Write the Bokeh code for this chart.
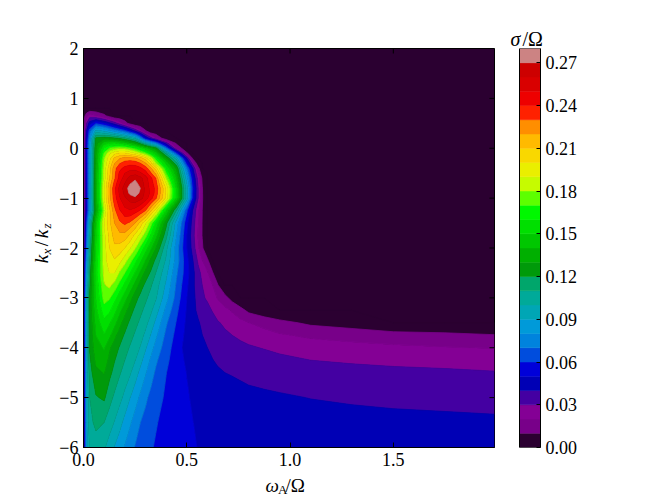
import numpy as np
from bokeh.plotting import figure
from bokeh.models import Range1d, FixedTicker, Label, NumeralTickFormatter
from bokeh.layouts import row, column
from bokeh.embed import file_html
from bokeh.resources import INLINE

# ---------------- data ----------------
# omega_A / Omega grid, left part (lobe) and right part (long-wavelength branch)
omega_left = [0, 0.005, 0.015, 0.03, 0.06, 0.1, 0.125, 0.15, 0.175, 0.2, 0.225, 0.25,
              0.275, 0.3, 0.325, 0.35, 0.4, 0.45, 0.5, 0.53, 0.555, 0.575]
omega_right = [0.6, 0.625, 0.65, 0.685, 0.72, 0.76, 0.8, 0.875, 0.95, 1.1, 1.3, 1.5, 1.75, 1.99]
kx_kz = [-6, -5.5, -5, -4.5, -4.25, -4, -3.75, -3.5, -3.25, -3, -2.75, -2.5, -2.25, -2,
         -1.75, -1.5, -1.25, -1, -0.9, -0.8, -0.7, -0.6, -0.5, -0.4, -0.3, -0.2, -0.1,
         0, 0.1, 0.2, 0.35, 0.5, 0.65, 0.8, 2]

# sigma/Omega, one row per kx/kz value, columns follow omega_left
sigma_left = [
    [0, 0.035, 0.085, 0.102, 0.105, 0.1014, 0.0954, 0.0894, 0.0842, 0.079, 0.0738, 0.0692, 0.0664, 0.0636, 0.0608, 0.0592, 0.0569, 0.0546, 0.0523, 0.0509, 0.0497, 0.0494],
    [0, 0.036, 0.088, 0.107, 0.1125, 0.11, 0.1048, 0.0995, 0.0934, 0.0869, 0.0813, 0.0757, 0.07, 0.0669, 0.0638, 0.0606, 0.0574, 0.0546, 0.0518, 0.0501, 0.0488, 0.0482],
    [0, 0.037, 0.09, 0.11, 0.119, 0.1215, 0.1138, 0.108, 0.103, 0.0972, 0.0903, 0.0841, 0.078, 0.0718, 0.0675, 0.0639, 0.0584, 0.0547, 0.051, 0.0487, 0.0469, 0.0458],
    [0, 0.038, 0.092, 0.115, 0.128, 0.1305, 0.1229, 0.1167, 0.1111, 0.1062, 0.1013, 0.0945, 0.0874, 0.0808, 0.0741, 0.0684, 0.0602, 0.0548, 0.0497, 0.0465, 0.0442, 0.0432],
    [0, 0.038, 0.093, 0.118, 0.132, 0.136, 0.1273, 0.1205, 0.1152, 0.11, 0.1052, 0.1004, 0.093, 0.0857, 0.0786, 0.0717, 0.0621, 0.0549, 0.0481, 0.0441, 0.0418, 0.0414],
    [0, 0.039, 0.094, 0.121, 0.136, 0.141, 0.1317, 0.125, 0.119, 0.114, 0.1091, 0.1043, 0.0994, 0.0913, 0.0838, 0.0765, 0.0646, 0.0551, 0.0457, 0.043, 0.0415, 0.0405],
    [0, 0.039, 0.095, 0.121, 0.14, 0.149, 0.1426, 0.1329, 0.1249, 0.1186, 0.1136, 0.1086, 0.1037, 0.098, 0.0897, 0.0819, 0.0675, 0.057, 0.047, 0.0435, 0.0412, 0.0401],
    [0, 0.04, 0.096, 0.122, 0.143, 0.157, 0.1513, 0.1433, 0.1335, 0.1247, 0.118, 0.113, 0.108, 0.103, 0.0964, 0.0877, 0.0713, 0.0593, 0.048, 0.045, 0.041, 0.038],
    [0, 0.04, 0.097, 0.122, 0.147, 0.1655, 0.162, 0.1535, 0.1426, 0.1338, 0.1244, 0.1175, 0.1125, 0.1074, 0.1022, 0.0947, 0.0771, 0.0622, 0.049, 0.0425, 0.038, 0.0355],
    [0, 0.04, 0.098, 0.122, 0.15, 0.174, 0.1713, 0.1633, 0.154, 0.144, 0.134, 0.124, 0.117, 0.112, 0.1067, 0.1013, 0.0837, 0.0659, 0.05, 0.0425, 0.0362, 0.031],
    [0, 0.038, 0.09, 0.118, 0.152, 0.179, 0.1823, 0.176, 0.1664, 0.1568, 0.1462, 0.1358, 0.1254, 0.1171, 0.1112, 0.105, 0.088, 0.0683, 0.0518, 0.0417, 0.035, 0.03],
    [0, 0.037, 0.085, 0.115, 0.155, 0.183, 0.19, 0.19, 0.1783, 0.17, 0.16, 0.149, 0.1378, 0.1267, 0.1186, 0.11, 0.0928, 0.0713, 0.054, 0.0423, 0.0334, 0.0271],
    [0, 0.034, 0.078, 0.11, 0.152, 0.185, 0.196, 0.199, 0.1937, 0.184, 0.174, 0.1633, 0.1519, 0.14, 0.128, 0.1173, 0.0984, 0.0753, 0.053, 0.04, 0.028, 0.02],
    [0, 0.03, 0.07, 0.105, 0.15, 0.185, 0.2, 0.208, 0.206, 0.2, 0.191, 0.181, 0.168, 0.155, 0.1425, 0.13, 0.103, 0.075, 0.05, 0.0355, 0.021, 0.0115],
    [0, 0.027, 0.065, 0.1, 0.148, 0.187, 0.203, 0.214, 0.217, 0.216, 0.208, 0.197, 0.186, 0.174, 0.159, 0.144, 0.1133, 0.08, 0.05, 0.0333, 0.0186, 0.0095],
    [0, 0.025, 0.06, 0.095, 0.145, 0.19, 0.207, 0.22, 0.228, 0.232, 0.228, 0.22, 0.207, 0.192, 0.175, 0.1575, 0.1233, 0.085, 0.0529, 0.035, 0.02, 0.0095],
    [0, 0.022, 0.05, 0.08, 0.13, 0.18, 0.207, 0.227, 0.239, 0.247, 0.249, 0.245, 0.239, 0.23, 0.213, 0.195, 0.15, 0.11, 0.062, 0.0385, 0.022, 0.01],
    [0, 0.02, 0.05, 0.08, 0.135, 0.19, 0.216, 0.235, 0.249, 0.258, 0.265, 0.268, 0.264, 0.255, 0.244, 0.232, 0.197, 0.148, 0.0957, 0.0536, 0.03, 0.0109],
    [0, 0.02, 0.05, 0.08, 0.135, 0.19, 0.217, 0.236, 0.252, 0.263, 0.272, 0.275, 0.268, 0.257, 0.248, 0.236, 0.199, 0.148, 0.095, 0.054, 0.03, 0.0107],
    [0, 0.02, 0.05, 0.08, 0.135, 0.19, 0.217, 0.237, 0.253, 0.265, 0.274, 0.278, 0.27, 0.257, 0.247, 0.237, 0.199, 0.148, 0.095, 0.055, 0.03, 0.0105],
    [0, 0.02, 0.05, 0.08, 0.134, 0.188, 0.213, 0.233, 0.249, 0.26, 0.269, 0.273, 0.266, 0.256, 0.245, 0.234, 0.19, 0.144, 0.09, 0.0525, 0.028, 0.0093],
    [0, 0.02, 0.05, 0.08, 0.133, 0.185, 0.209, 0.228, 0.244, 0.255, 0.264, 0.268, 0.263, 0.255, 0.243, 0.23, 0.18, 0.14, 0.085, 0.05, 0.026, 0.008],
    [0, 0.02, 0.05, 0.08, 0.133, 0.184, 0.207, 0.227, 0.242, 0.25, 0.255, 0.256, 0.252, 0.245, 0.232, 0.218, 0.17, 0.134, 0.078, 0.045, 0.02, 0.003],
    [0, 0.02, 0.05, 0.08, 0.132, 0.183, 0.206, 0.226, 0.237, 0.243, 0.246, 0.246, 0.242, 0.235, 0.222, 0.205, 0.16, 0.128, 0.07, 0.04, 0.013, 0],
    [0, 0.02, 0.05, 0.08, 0.131, 0.181, 0.2, 0.219, 0.229, 0.234, 0.236, 0.235, 0.23, 0.221, 0.205, 0.18, 0.147, 0.113, 0.055, 0.024, 0.002, 0],
    [0, 0.02, 0.05, 0.08, 0.13, 0.178, 0.196, 0.212, 0.219, 0.224, 0.224, 0.222, 0.215, 0.205, 0.187, 0.165, 0.13, 0.095, 0.04, 0.007, 0, 0],
    [0, 0.02, 0.05, 0.08, 0.129, 0.171, 0.187, 0.197, 0.201, 0.201, 0.196, 0.19, 0.181, 0.172, 0.158, 0.145, 0.108, 0.06, 0.012, 0, 0, 0],
    [0, 0.02, 0.05, 0.08, 0.128, 0.162, 0.17, 0.175, 0.177, 0.176, 0.171, 0.165, 0.155, 0.145, 0.135, 0.125, 0.07, 0.02, 0, 0, 0, 0],
    [0, 0.02, 0.048, 0.078, 0.125, 0.145, 0.15, 0.151, 0.148, 0.144, 0.137, 0.13, 0.117, 0.1, 0.085, 0.072, 0.035, 0.008, 0, 0, 0, 0],
    [0, 0.02, 0.045, 0.075, 0.122, 0.125, 0.124, 0.122, 0.118, 0.113, 0.106, 0.098, 0.075, 0.05, 0.035, 0.0214, 0.002, 0, 0, 0, 0, 0],
    [0, 0.02, 0.04, 0.065, 0.093, 0.088, 0.082, 0.075, 0.069, 0.062, 0.05, 0.0375, 0.024, 0.011, 0, 0, 0, 0, 0, 0, 0, 0],
    [0, 0.015, 0.03, 0.045, 0.058, 0.05, 0.043, 0.035, 0.025, 0.015, 0.006, 0, 0, 0, 0, 0, 0, 0, 0, 0, 0, 0],
    [0, 0.008, 0.016, 0.025, 0.021, 0.0125, 0.006, 0, 0, 0, 0, 0, 0, 0, 0, 0, 0, 0, 0, 0, 0, 0],
    [0] * 22,
    [0] * 22,
]

# sigma/Omega for omega_right columns, rows kx/kz = -6 ... -2 (zero above)
sigma_right = [
    [0.049, 0.0485, 0.048, 0.0475, 0.047, 0.047, 0.0465, 0.0462, 0.046, 0.0455, 0.045, 0.0445, 0.044, 0.0435],
    [0.0475, 0.047, 0.0465, 0.046, 0.0455, 0.0452, 0.045, 0.0445, 0.044, 0.0435, 0.043, 0.0425, 0.042, 0.0415],
    [0.045, 0.0445, 0.044, 0.0435, 0.043, 0.0425, 0.042, 0.0415, 0.041, 0.0398, 0.0388, 0.038, 0.0375, 0.037],
    [0.0425, 0.0418, 0.041, 0.04, 0.0395, 0.0388, 0.038, 0.037, 0.036, 0.035, 0.0337, 0.0325, 0.0315, 0.0305],
    [0.041, 0.0402, 0.039, 0.0375, 0.036, 0.0355, 0.035, 0.0335, 0.032, 0.030, 0.0285, 0.0275, 0.027, 0.0265],
    [0.04, 0.0385, 0.036, 0.0345, 0.033, 0.032, 0.031, 0.0295, 0.028, 0.025, 0.0235, 0.022, 0.0205, 0.0195],
    [0.037, 0.0355, 0.034, 0.032, 0.030, 0.0285, 0.027, 0.024, 0.021, 0.018, 0.016, 0.014, 0.0125, 0.0105],
    [0.0345, 0.0328, 0.031, 0.028, 0.025, 0.023, 0.020, 0.0165, 0.013, 0.008, 0.005, 0, 0, 0],
    [0.032, 0.0295, 0.025, 0.0225, 0.019, 0.0135, 0.0075, 0.003, 0, 0, 0, 0, 0, 0],
    [0.029, 0.0245, 0.019, 0.0135, 0.006, 0, 0, 0, 0, 0, 0, 0, 0, 0],
    [0.025, 0.02, 0.011, 0, 0, 0, 0, 0, 0, 0, 0, 0, 0, 0],
    [0.021, 0.011, 0, 0, 0, 0, 0, 0, 0, 0, 0, 0, 0, 0],
    [0.012, 0, 0, 0, 0, 0, 0, 0, 0, 0, 0, 0, 0, 0],
]

levels = [0.00, 0.01, 0.02, 0.03, 0.04, 0.05, 0.06, 0.07, 0.08, 0.09, 0.10, 0.11, 0.12, 0.13, 0.14,
          0.15, 0.16, 0.17, 0.18, 0.19, 0.20, 0.21, 0.22, 0.23, 0.24, 0.25, 0.26, 0.27, 0.28]
cbar_ticks = [0.00, 0.03, 0.06, 0.09, 0.12, 0.15, 0.18, 0.21, 0.24, 0.27]
x_ticks = [0.0, 0.5, 1.0, 1.5]
y_ticks = [-6, -5, -4, -3, -2, -1, 0, 1, 2]
y_tick_labels = ["\u22126", "\u22125", "\u22124", "\u22123", "\u22122", "\u22121", "0", "1", "2"]

# assemble the full table
assert all(len(r) == len(omega_left) for r in sigma_left) and len(sigma_left) == len(kx_kz)
assert all(len(r) == len(omega_right) for r in sigma_right)
omega_a = omega_left + omega_right
sigma = []
for i, r in enumerate(sigma_left):
    right = sigma_right[i] if i < len(sigma_right) else [0] * len(omega_right)
    sigma.append(r + right)
sigma = np.array(sigma, dtype=float)

# ---------------- colour map (nipy_spectral segment table) ----------------
NS_POS = [0.0, 0.05, 0.10, 0.15, 0.20, 0.25, 0.30, 0.35, 0.40, 0.45, 0.50, 0.55, 0.60, 0.65,
          0.70, 0.75, 0.80, 0.85, 0.90, 0.95, 1.0]
NS_R = [0.0, 0.4667, 0.5333, 0.0, 0.0, 0.0, 0.0, 0.0, 0.0, 0.0, 0.0, 0.0, 0.0, 0.7333,
        0.9333, 1.0, 1.0, 1.0, 0.8667, 0.80, 0.80]
NS_G = [0.0, 0.0, 0.0, 0.0, 0.0, 0.4667, 0.6000, 0.6667, 0.6667, 0.6000, 0.7333, 0.8667, 1.0, 1.0,
        0.9333, 0.8000, 0.6000, 0.0, 0.0, 0.0, 0.80]
NS_B = [0.0, 0.5333, 0.6000, 0.6667, 0.8667, 0.8667, 0.8667, 0.6667, 0.5333, 0.0, 0.0, 0.0, 0.0, 0.0,
        0.0, 0.0, 0.0, 0.0, 0.0, 0.0, 0.80]


def nipy(t):
    r, g, b = (float(np.interp(t, NS_POS, c)) for c in (NS_R, NS_G, NS_B))
    return "#%02x%02x%02x" % (int(round(r * 255)), int(round(g * 255)), int(round(b * 255)))


nb = len(levels) - 1
palette = [nipy((i + 0.5) / nb) for i in range(nb)]
# each level line takes the colour of the band just above it (hides anti-alias seams)
seam_colors = [palette[min(j, nb - 1)] for j in range(len(levels))]

FONT = "Liberation Serif"
TICK_FS = "18px"
LAB_PX, SUB_PX = 19, 13

X_MIN, X_MAX, Y_MIN, Y_MAX = 0.0, 1.99, -6.0, 2.0
FW, FH = 411, 399
TOP, BOTTOM = 48, 26
YL_W = 56
P_LEFT, P_RIGHT = 27, 12
TICK_LEN = 5


def label(fig, x, y, text, px=LAB_PX, style="normal", angle=0.0, align="left"):
    """Place a text piece; (x, y) is the visual centre line of the glyphs."""
    fig.add_layout(Label(x=x, y=y, text=text, text_font=FONT, text_font_size="%dpx" % px,
                         text_font_style=style, text_align=align, text_baseline="middle",
                         angle=angle, text_color="black"))


def blank(w, h, x_range=None, y_range=None, **borders):
    kw = dict(min_border=0)
    kw.update(borders)
    f = figure(frame_width=w, frame_height=h,
               x_range=x_range or Range1d(0, w), y_range=y_range or Range1d(0, h),
               x_axis_location=None, y_axis_location=None,
               output_backend="svg", toolbar_location=None, tools="", **kw)
    f.outline_line_color = None
    f.grid.visible = False
    f.background_fill_color = "white"
    f.border_fill_color = "white"
    return f


# ---------------- main contour figure ----------------
p = figure(frame_width=FW, frame_height=FH, min_border_left=P_LEFT, min_border_right=P_RIGHT,
           min_border_top=TOP, min_border_bottom=BOTTOM,
           x_range=Range1d(X_MIN, X_MAX), y_range=Range1d(Y_MIN, Y_MAX),
           output_backend="svg", toolbar_location=None, tools="")
p.background_fill_color = palette[0]
p.border_fill_color = "white"
p.outline_line_color = "black"
p.outline_line_width = 1
p.grid.visible = False

p.contour(x=omega_a, y=kx_kz, z=sigma, levels=levels, fill_color=palette,
          line_color=seam_colors, line_width=0.8)

for ax in (p.xaxis[0], p.yaxis[0]):
    ax.major_tick_in = TICK_LEN
    ax.major_tick_out = 0
    ax.minor_tick_line_color = None
    ax.axis_line_color = "black"
    ax.major_tick_line_color = "black"
    ax.major_label_text_font = FONT
    ax.major_label_text_font_size = TICK_FS
    ax.major_label_text_color = "black"
    ax.major_label_standoff = 5

p.xaxis.ticker = FixedTicker(ticks=x_ticks)
p.xaxis.formatter = NumeralTickFormatter(format="0.0")
p.yaxis.ticker = FixedTicker(ticks=y_ticks)
p.yaxis.major_label_overrides = {t: s for t, s in zip(y_ticks, y_tick_labels)}

# mirrored inward ticks on the top and right spines
dy = TICK_LEN * (Y_MAX - Y_MIN) / FH
dx = TICK_LEN * (X_MAX - X_MIN) / FW
p.segment(x0=x_ticks, y0=[Y_MAX] * len(x_ticks), x1=x_ticks, y1=[Y_MAX - dy] * len(x_ticks),
          line_color="black", line_width=1)
p.segment(x0=[X_MAX] * len(y_ticks), y0=y_ticks, x1=[X_MAX - dx] * len(y_ticks), y1=y_ticks,
          line_color="black", line_width=1)

# ---------------- y label figure (k_x / k_z); frame shares the plot's y scale ----------------
ylab = blank(YL_W, FH, y_range=Range1d(Y_MIN, Y_MAX),
             min_border_top=TOP, min_border_bottom=BOTTOM, min_border_left=0, min_border_right=0)
ang = np.pi / 2
px_per_y = FH / (Y_MAX - Y_MIN)


def y_of(page_y):
    return Y_MAX - (page_y - TOP) / px_per_y


for cy, cx, t, px, st in [(258.5, 40.5, "k", LAB_PX, "italic"),
                          (251.0, 46.0, "x", SUB_PX, "italic"),
                          (243.0, 41.0, "/", LAB_PX, "normal"),
                          (233.5, 40.5, "k", LAB_PX, "italic"),
                          (225.5, 46.0, "z", SUB_PX, "italic")]:
    label(ylab, cx, y_of(cy), t, px=px, style=st, angle=ang, align="center")

# ---------------- colour bar (frame starts right after the main plot) ----------------
CB_PAD, CB_BAR = 13, 21
cb = figure(frame_width=CB_PAD + CB_BAR, frame_height=FH, min_border_left=0, min_border_right=60,
            min_border_top=0, min_border_bottom=BOTTOM,
            x_range=Range1d(-CB_PAD / CB_BAR, 1), y_range=Range1d(levels[0], levels[-1]),
            x_axis_location=None, y_axis_location="right",
            output_backend="svg", toolbar_location=None, tools="")
cb.grid.visible = False
cb.outline_line_color = None
cb.border_fill_color = "white"
cb.background_fill_color = "white"
cb.quad(left=0, right=1, bottom=levels[:-1], top=levels[1:], fill_color=palette,
        line_color=palette, line_width=0.5)
cb.quad(left=0, right=1, bottom=levels[0], top=levels[-1], fill_color=None,
        line_color="black", line_width=1)
cax = cb.yaxis[0]
cax.ticker = FixedTicker(ticks=cbar_ticks)
cax.formatter = NumeralTickFormatter(format="0.00")
cax.major_tick_in = 4
cax.major_tick_out = 0
cax.minor_tick_line_color = None
cax.axis_line_color = "black"
cax.major_tick_line_color = "black"
cax.major_label_text_font = FONT
cax.major_label_text_font_size = TICK_FS
cax.major_label_text_color = "black"
cax.major_label_standoff = 5

cb_x0 = YL_W + P_LEFT + FW + P_RIGHT          # page x of the colour-bar frame's left edge
cbt = blank(CB_PAD + CB_BAR + 60, TOP)
label(cbt, 510 - cb_x0, TOP - 38, "\u03c3", px=20, style="italic")
label(cbt, 522 - cb_x0, TOP - 38, "/\u03a9", px=20)

# ---------------- x label figure (omega_A / Omega) ----------------
XL_W, XL_H = 600, 23
xlab = blank(XL_W, XL_H)
page_bottom = TOP + FH + BOTTOM + XL_H
label(xlab, 265, page_bottom - 485, "\u03c9", style="italic")
label(xlab, 277.5, page_bottom - 489, "A", px=SUB_PX)
label(xlab, 285, page_bottom - 485, "/\u03a9")

layout = column(row(ylab, p, column(cbt, cb)), xlab)
open("out.html", "w").write(file_html(layout, INLINE))
